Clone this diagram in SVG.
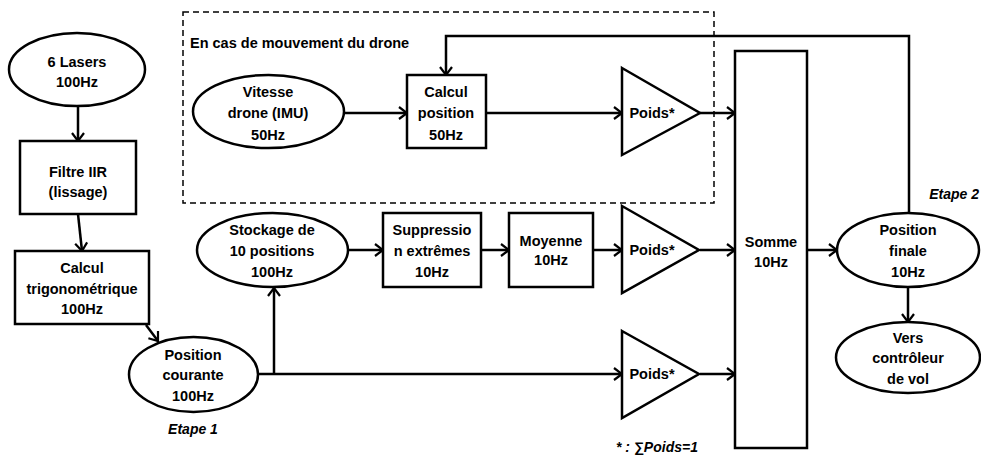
<svg xmlns="http://www.w3.org/2000/svg" width="981" height="455" viewBox="0 0 981 455">
  <style>
    .shape { fill: #ffffff; stroke: #000000; stroke-width: 2.5; }
    .wire { fill: none; stroke: #000000; stroke-width: 2.5; }
    .arrow { fill: none; stroke: #000000; stroke-width: 2.5; marker-end: url(#head); }
    .zone { fill: none; stroke: #000000; stroke-width: 1.5; stroke-dasharray: 6 4; }
    text { font-family: "Liberation Sans", Arial, sans-serif; font-weight: bold; font-size: 14.5px; fill: #000000; }
    .c { text-anchor: middle; }
    .note { font-style: italic; font-size: 14px; }
  </style>
  <defs>
    <marker id="head" viewBox="0 0 10 14" refX="9" refY="7" markerWidth="10" markerHeight="14" markerUnits="userSpaceOnUse" orient="auto">
      <path d="M1,1 L9,7 L1,13" fill="none" stroke="#000000" stroke-width="2.2"/>
    </marker>
  </defs>

  <!-- dashed zone: drone moving -->
  <g id="zone-mouvement">
    <rect class="zone" x="183" y="12" width="531" height="191"/>
    <text x="190" y="48">En cas de mouvement du drone</text>
  </g>

  <!-- connectors -->
  <g id="connectors">
    <line class="arrow" x1="78" y1="106" x2="78" y2="141"/>
    <line class="arrow" x1="78" y1="214" x2="82" y2="251"/>
    <line class="arrow" x1="146" y1="325" x2="158" y2="341"/>
    <line class="arrow" x1="258" y1="374" x2="622" y2="374"/>
    <line class="arrow" x1="274" y1="374" x2="274" y2="288"/>
    <line class="arrow" x1="348" y1="250" x2="383" y2="250"/>
    <line class="arrow" x1="481" y1="250" x2="509" y2="250"/>
    <line class="arrow" x1="593" y1="250" x2="622" y2="250"/>
    <line class="arrow" x1="344" y1="113" x2="407" y2="113"/>
    <line class="arrow" x1="486" y1="113" x2="622" y2="113"/>
    <line class="arrow" x1="700" y1="113" x2="735" y2="113"/>
    <line class="arrow" x1="700" y1="250" x2="735" y2="250"/>
    <line class="arrow" x1="700" y1="374" x2="735" y2="374"/>
    <line class="arrow" x1="807" y1="250" x2="837" y2="250"/>
    <line class="arrow" x1="908" y1="287" x2="908" y2="322"/>
    <polyline class="arrow" points="909,213 909,36 446,36 446,75"/>
  </g>

  <g id="lasers">
    <ellipse class="shape" cx="77" cy="69.5" rx="68" ry="36.5"/>
    <text class="c" x="77" y="67">6 Lasers</text>
    <text class="c" x="77" y="87">100Hz</text>
  </g>

  <g id="filtre-iir">
    <rect class="shape" x="20" y="141" width="116" height="73"/>
    <text class="c" x="78" y="177">Filtre IIR</text>
    <text class="c" x="78" y="197">(lissage)</text>
  </g>

  <g id="calcul-trigo">
    <rect class="shape" x="15" y="251" width="134" height="73"/>
    <text class="c" x="82" y="273">Calcul</text>
    <text class="c" x="82" y="294">trigonométrique</text>
    <text class="c" x="82" y="314">100Hz</text>
  </g>

  <g id="position-courante">
    <ellipse class="shape" cx="193.5" cy="374.5" rx="64.5" ry="37.5"/>
    <text class="c" x="193" y="360">Position</text>
    <text class="c" x="193" y="380">courante</text>
    <text class="c" x="193" y="401">100Hz</text>
  </g>

  <text id="etape-1" class="c note" x="193" y="434">Etape 1</text>

  <g id="stockage">
    <ellipse class="shape" cx="272.5" cy="250" rx="75.5" ry="37"/>
    <text class="c" x="272" y="235">Stockage de</text>
    <text class="c" x="272" y="256">10 positions</text>
    <text class="c" x="272" y="277">100Hz</text>
  </g>

  <g id="suppression">
    <rect class="shape" x="383" y="213" width="98" height="74"/>
    <text class="c" x="432" y="235">Suppressio</text>
    <text class="c" x="432" y="256">n extrêmes</text>
    <text class="c" x="432" y="277">10Hz</text>
  </g>

  <g id="moyenne">
    <rect class="shape" x="509" y="213" width="84" height="74"/>
    <text class="c" x="551" y="246">Moyenne</text>
    <text class="c" x="551" y="265">10Hz</text>
  </g>

  <g id="vitesse-drone">
    <ellipse class="shape" cx="268.5" cy="111.5" rx="75.5" ry="36.5"/>
    <text class="c" x="268" y="97">Vitesse</text>
    <text class="c" x="268" y="118">drone (IMU)</text>
    <text class="c" x="268" y="140">50Hz</text>
  </g>

  <g id="calcul-position">
    <rect class="shape" x="407" y="75" width="79" height="73"/>
    <text class="c" x="446" y="97">Calcul</text>
    <text class="c" x="446" y="118">position</text>
    <text class="c" x="446" y="140">50Hz</text>
  </g>

  <g id="poids-1">
    <polygon class="shape" points="622,68 700,113 622,155"/>
    <text class="c" x="652" y="118">Poids*</text>
  </g>

  <g id="poids-2">
    <polygon class="shape" points="622,206 699,250 622,293"/>
    <text class="c" x="652" y="255">Poids*</text>
  </g>

  <g id="poids-3">
    <polygon class="shape" points="622,331 699,374 622,418"/>
    <text class="c" x="652" y="379">Poids*</text>
  </g>

  <text id="note-poids" class="note" x="616" y="452">* : ∑Poids=1</text>

  <g id="somme">
    <rect class="shape" x="735" y="51" width="72" height="397"/>
    <text class="c" x="771" y="247">Somme</text>
    <text class="c" x="771" y="267">10Hz</text>
  </g>

  <g id="position-finale">
    <ellipse class="shape" cx="908" cy="250" rx="71" ry="37"/>
    <text class="c" x="908" y="235">Position</text>
    <text class="c" x="908" y="256">finale</text>
    <text class="c" x="908" y="277">10Hz</text>
  </g>

  <text id="etape-2" class="note" x="979" y="199" text-anchor="end">Etape 2</text>

  <g id="vers-controleur">
    <ellipse class="shape" cx="908" cy="357.5" rx="72" ry="35.5"/>
    <text class="c" x="908" y="343">Vers</text>
    <text class="c" x="908" y="363">contrôleur</text>
    <text class="c" x="908" y="384">de vol</text>
  </g>
</svg>
